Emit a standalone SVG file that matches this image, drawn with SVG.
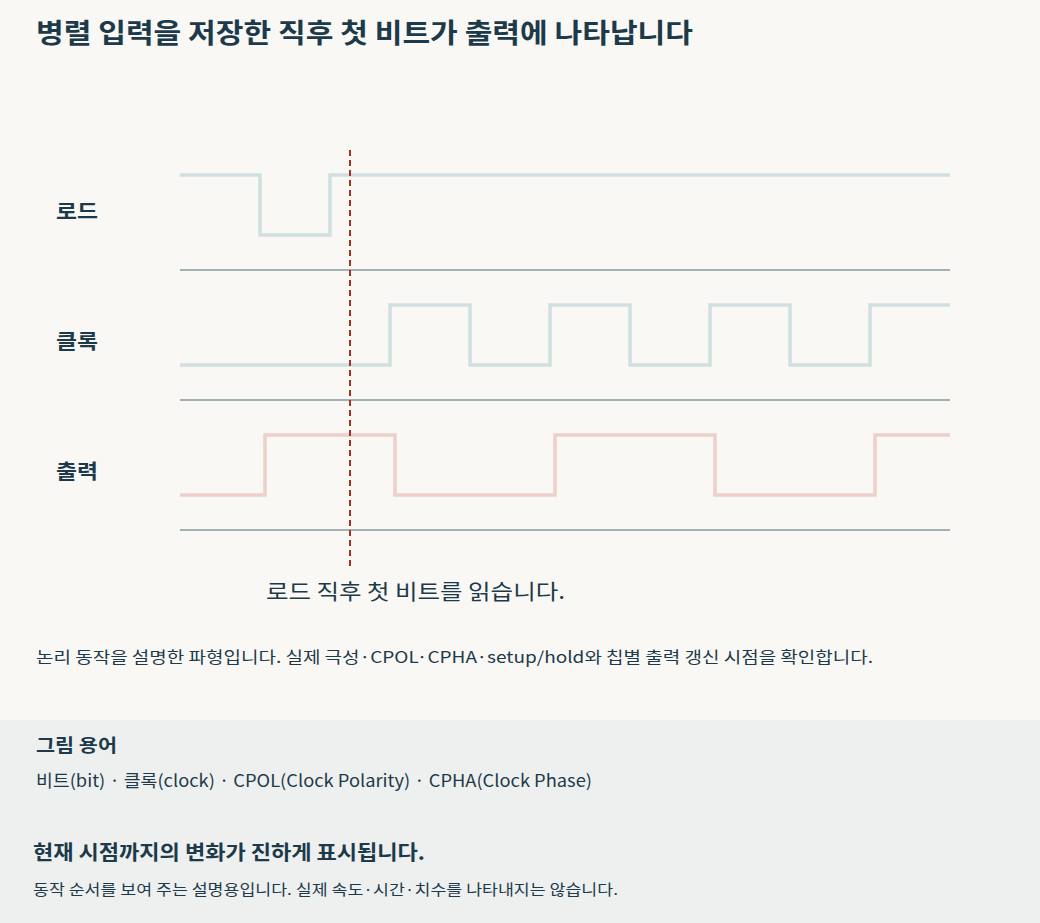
<svg xmlns="http://www.w3.org/2000/svg" width="1040" height="923" viewBox="0 0 1040 923">
<style>
.t{font-family:"Noto Sans CJK KR","Noto Sans",sans-serif;fill:#1d3a4a}
.b{font-weight:700}
.wl{fill:none;stroke:#d0dfdf;stroke-width:3.5;stroke-linejoin:miter}
.wo{fill:none;stroke:#edd0c9;stroke-width:3.5}
.base{stroke:#879a9c;stroke-width:1.5}
</style>
<rect width="1040" height="923" fill="#f9f8f5"/>
<rect x="0" y="720" width="1040" height="203" fill="#edf0ef"/>
<text class="t b" x="36" y="43" font-size="27" textLength="657" lengthAdjust="spacingAndGlyphs">병렬 입력을 저장한 직후 첫 비트가 출력에 나타납니다</text>
<g id="load">
<text class="t b" x="56" y="219" font-size="20" textLength="42" lengthAdjust="spacingAndGlyphs">로드</text>
<path class="wl" d="M180 175H260V235H330V175H950"/>
<line class="base" x1="180" y1="270" x2="950" y2="270"/>
</g>
<g id="clock">
<text class="t b" x="56" y="349" font-size="20" textLength="42" lengthAdjust="spacingAndGlyphs">클록</text>
<path class="wl" d="M180 365H390V305H470V365H550V305H630V365H710V305H790V365H870V305H950"/>
<line class="base" x1="180" y1="400" x2="950" y2="400"/>
</g>
<g id="output">
<text class="t b" x="56" y="479" font-size="20" textLength="42" lengthAdjust="spacingAndGlyphs">출력</text>
<path class="wo" d="M180 495H265V435H395V495H555V435H715V495H875V435H950"/>
<line class="base" x1="180" y1="530" x2="950" y2="530"/>
</g>
<g id="connectors">
<line x1="350" y1="150" x2="350" y2="570" stroke="#a8321f" stroke-width="2" stroke-dasharray="6 4"/>
</g>
<text class="t" x="266" y="599" font-size="21" fill="#33505c" textLength="299" lengthAdjust="spacingAndGlyphs">로드 직후 첫 비트를 읽습니다.</text>
<text class="t" x="36" y="663" font-size="16" textLength="837" lengthAdjust="spacingAndGlyphs">논리 동작을 설명한 파형입니다. 실제 극성·CPOL·CPHA·setup/hold와 칩별 출력 갱신 시점을 확인합니다.</text>
<text class="t b" x="36" y="752" font-size="18" textLength="81" lengthAdjust="spacingAndGlyphs">그림 용어</text>
<text class="t" x="36" y="787" font-size="17" textLength="556" lengthAdjust="spacingAndGlyphs">비트(bit) · 클록(clock) · CPOL(Clock Polarity) · CPHA(Clock Phase)</text>
<text class="t b" x="33" y="860" font-size="20" textLength="392" lengthAdjust="spacingAndGlyphs">현재 시점까지의 변화가 진하게 표시됩니다.</text>
<text class="t" x="33" y="895" font-size="15" textLength="585" lengthAdjust="spacingAndGlyphs">동작 순서를 보여 주는 설명용입니다. 실제 속도·시간·치수를 나타내지는 않습니다.</text>
</svg>
